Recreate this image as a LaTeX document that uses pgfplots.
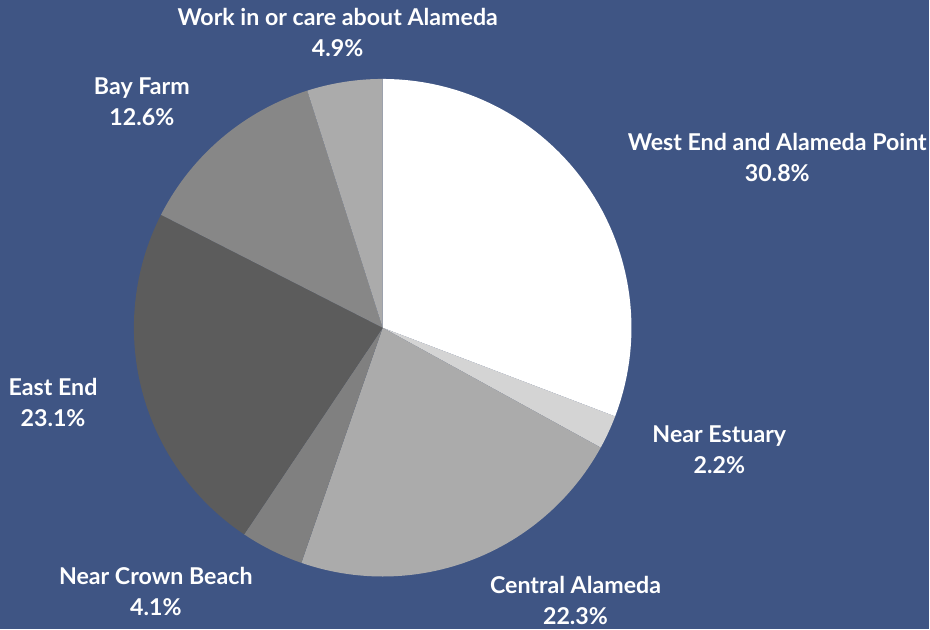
\documentclass[border=0pt]{standalone}
\usepackage{pgfplots}
\pgfplotsset{compat=1.18}
\usepackage{pgfplotstable}
\usepackage{fontspec}
\setmainfont{Lato}
\definecolor{bgc}{HTML}{3F5584}
\definecolor{c1}{HTML}{FFFFFF}
\definecolor{c2}{HTML}{D4D4D4}
\definecolor{c3}{HTML}{ABABAB}
\definecolor{c4}{HTML}{808080}
\definecolor{c5}{HTML}{5C5C5C}
\definecolor{c6}{HTML}{878787}
\definecolor{c7}{HTML}{ABABAB}
% slices: percentage, clockwise from top
\pgfplotstableread{
pct
30.8
2.2
22.3
4.1
23.1
12.6
4.9
}\piedata
\begin{document}
\begin{tikzpicture}
\fill[bgc] (0,0) rectangle (930pt,630pt);
\begin{axis}[at={(0,0)},anchor=south west,
  scale only axis, width=930pt, height=630pt,
  xmin=-1.5382, xmax=2.1968, ymin=-1.2129, ymax=1.3173,
  axis lines=none, ticks=none, clip=false]
\pgfmathsetmacro{\startang}{90}
\pgfplotstablegetrowsof{\piedata}
\pgfmathtruncatemacro{\nrows}{\pgfplotsretval-1}
\foreach \i in {0,...,\nrows}{
  \pgfplotstablegetelem{\i}{pct}\of\piedata
  \pgfmathsetmacro{\endang}{\startang-3.6*\pgfplotsretval}
  \pgfmathtruncatemacro{\ci}{\i+1}
  \edef\temp{\noexpand\addplot[draw=none,fill=c\ci,domain=\startang:\endang,samples=60]
     ({cos(x)},{sin(x)}) -- (axis cs:0,0) -- cycle;}
  \temp
  \global\let\startang\endang
}
\tikzset{lbl/.style={text=white,font=\fontsize{23.2}{31}\selectfont\bfseries,align=center}}
\node[lbl] at (axis cs:-0.181,1.186) {Work in or care about Alameda\\4.9\%};
\node[lbl] at (axis cs:-0.968,0.910) {Bay Farm\\12.6\%};
\node[lbl] at (axis cs:1.586,0.683) {West End and Alameda Point\\30.8\%};
\node[lbl] at (axis cs:1.353,-0.490) {Near Estuary\\2.2\%};
\node[lbl] at (axis cs:0.775,-1.096) {Central Alameda\\22.3\%};
\node[lbl] at (axis cs:-0.912,-1.060) {Near Crown Beach\\4.1\%};
\node[lbl] at (axis cs:-1.325,-0.300) {East End\\23.1\%};
\end{axis}
\end{tikzpicture}
\end{document}
